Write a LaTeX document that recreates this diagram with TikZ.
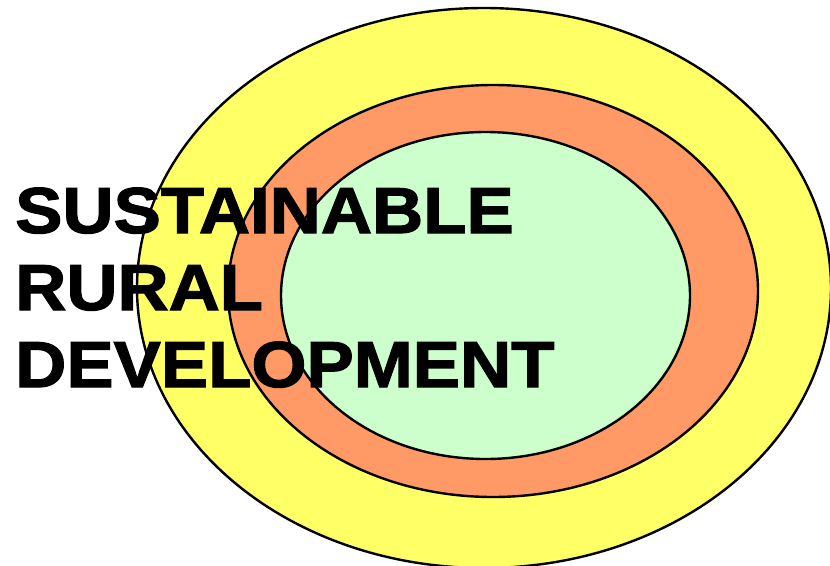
\documentclass[tikz,border=0pt]{standalone}
\usepackage{fontspec}
\setmainfont{Liberation Sans}
\newfontfamily\heavyfont[FakeStretch=1.09,FakeBold=1.8]{Liberation Sans Bold}
\definecolor{ringY}{HTML}{FFFF66}
\definecolor{ringO}{HTML}{FF9966}
\definecolor{ringG}{HTML}{CCFFCC}
\begin{document}
\begin{tikzpicture}[x=1pt,y=-1pt,
  ring/.style={draw=black,line width=2.4pt},
  bigtext/.style={inner sep=0pt,anchor=base west,font=\heavyfont\fontsize{65}{77}\selectfont}]
\useasboundingbox (0,0) rectangle (830,565);
\clip (0,0) rectangle (830,565);
\fill[white] (0,0) rectangle (830,565);
\draw[ring,fill=ringY] (484,288) ellipse [x radius=347,y radius=280];
\draw[ring,fill=ringO] (493,291) ellipse [x radius=265,y radius=206];
\draw[ring,fill=ringG] (485.5,295.5) ellipse [x radius=204.5,y radius=163.5];
\node[bigtext] (l1) at (15,233) {SUSTAINABLE};
\node[bigtext] (l2) at (15,310) {RURAL};
\node[bigtext] (l3) at (15,387) {DEVELOPMENT};
\end{tikzpicture}
\end{document}
